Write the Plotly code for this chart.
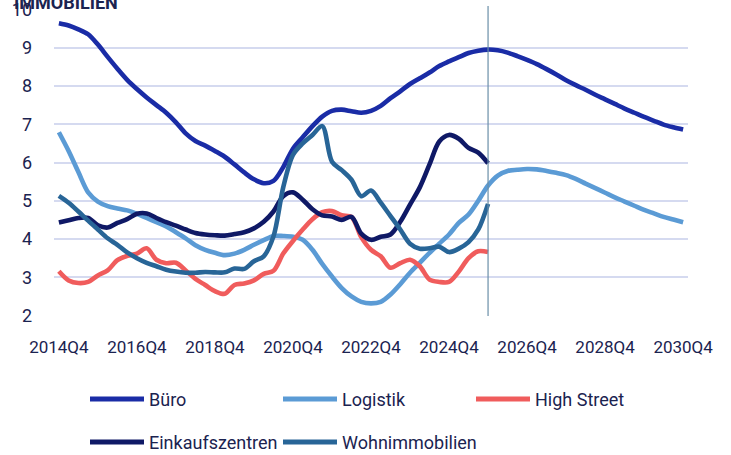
import plotly.graph_objects as go

# Quarterly categories 2014Q4 .. 2030Q4
quarters = [f"{2014 + (q + 3) // 4}Q{(q + 3) % 4 + 1}" for q in range(65)]
tick_labels = ["2014Q4", "2016Q4", "2018Q4", "2020Q4", "2022Q4",
               "2024Q4", "2026Q4", "2028Q4", "2030Q4"]
y_ticks = [2, 3, 4, 5, 6, 7, 8, 9, 10]
forecast_start = "2025Q4"

buero = [9.64, 9.58, 9.48, 9.35, 9.08, 8.76, 8.45, 8.16, 7.92, 7.70,
         7.50, 7.30, 7.05, 6.76, 6.56, 6.44, 6.30, 6.15, 5.95, 5.74,
         5.56, 5.46, 5.52, 5.88, 6.36, 6.66, 6.95, 7.20, 7.35, 7.38,
         7.34, 7.30, 7.35, 7.48, 7.68, 7.86, 8.05, 8.20, 8.35, 8.52,
         8.64, 8.75, 8.86, 8.92, 8.95, 8.93, 8.87, 8.78, 8.68, 8.57,
         8.44, 8.30, 8.15, 8.02, 7.90, 7.77, 7.65, 7.53, 7.41, 7.30,
         7.19, 7.09, 6.99, 6.92, 6.86]

logistik = [6.79, 6.30, 5.75, 5.22, 4.98, 4.86, 4.80, 4.75, 4.66, 4.55,
            4.44, 4.33, 4.18, 4.02, 3.84, 3.72, 3.64, 3.58, 3.62, 3.72,
            3.85, 3.97, 4.08, 4.08, 4.06, 3.98, 3.72, 3.35, 3.02, 2.72,
            2.50, 2.36, 2.32, 2.36, 2.55, 2.82, 3.12, 3.38, 3.64, 3.88,
            4.12, 4.42, 4.64, 5.00, 5.40, 5.66, 5.78, 5.81, 5.83, 5.82,
            5.78, 5.73, 5.67, 5.57, 5.45, 5.33, 5.21, 5.09, 4.98, 4.87,
            4.76, 4.67, 4.58, 4.51, 4.44]

high_street = [3.16, 2.92, 2.85, 2.88, 3.05, 3.18, 3.45, 3.56, 3.62, 3.76,
               3.46, 3.37, 3.38, 3.18, 2.96, 2.80, 2.64, 2.57, 2.80, 2.84,
               2.92, 3.09, 3.17, 3.62, 3.95, 4.25, 4.52, 4.70, 4.73, 4.62,
               4.58, 4.05, 3.72, 3.55, 3.25, 3.37, 3.46, 3.29, 2.94, 2.88,
               2.88, 3.15, 3.50, 3.68, 3.66]

einkaufszentren = [4.43, 4.49, 4.55, 4.55, 4.36, 4.30, 4.42, 4.52, 4.66, 4.67,
                   4.55, 4.44, 4.35, 4.25, 4.16, 4.12, 4.10, 4.09, 4.13, 4.18,
                   4.28, 4.45, 4.72, 5.12, 5.22, 5.03, 4.78, 4.62, 4.59, 4.50,
                   4.58, 4.14, 3.98, 4.06, 4.12, 4.45, 4.90, 5.35, 5.95, 6.55,
                   6.72, 6.62, 6.38, 6.26, 5.98]

wohnimmobilien = [5.13, 4.95, 4.72, 4.48, 4.25, 4.02, 3.85, 3.65, 3.50, 3.38,
                  3.29, 3.20, 3.15, 3.12, 3.12, 3.14, 3.13, 3.13, 3.23, 3.22,
                  3.42, 3.55, 4.07, 5.35, 6.20, 6.50, 6.72, 6.95, 6.02, 5.80,
                  5.55, 5.12, 5.27, 4.95, 4.60, 4.25, 3.88, 3.75, 3.76, 3.80,
                  3.66, 3.75, 3.92, 4.25, 4.92]

series = [
    ("Büro", buero, "#1a2ca6"),
    ("Logistik", logistik, "#5b9bd5"),
    ("High Street", high_street, "#f05c5c"),
    ("Einkaufszentren", einkaufszentren, "#0f1966"),
    ("Wohnimmobilien", wohnimmobilien, "#286597"),
]

FONT = "Roboto, DejaVu Sans Condensed, sans-serif"
TEXT_COLOR = "#1b2350"

W, H = 731, 455
ML, MR, MT, MB = 54, 43, 9, 139
PW, PH = W - ML - MR, H - MT - MB


def px_x(px):
    return (px - ML) / PW


def px_y(py):
    return (H - MB - py) / PH


fig = go.Figure()
for name, vals, color in series:
    fig.add_trace(go.Scatter(
        x=quarters[:len(vals)], y=vals, name=name, mode="lines",
        line=dict(color=color, width=4.6, shape="spline", smoothing=0.9),
        showlegend=False, hoverinfo="x+y+name",
    ))

shapes = [dict(
    type="line", xref="x", yref="paper",
    x0=quarters.index(forecast_start), x1=quarters.index(forecast_start),
    y0=0, y1=1.01, line=dict(color="#6a8ea8", width=1.2),
)]

annotations = [dict(
    text="<b>IMMOBILIEN</b>", xref="paper", yref="paper",
    x=px_x(12), y=px_y(15), xanchor="left", yanchor="bottom",
    showarrow=False, font=dict(family=FONT, size=18, color=TEXT_COLOR),
)]

# Legend drawn as line samples with labels in a 3-column grid
for k, (name, vals, color) in enumerate(series):
    row, col = divmod(k, 3)
    x0 = 90 + col * 193
    yc = 399 + row * 43
    shapes.append(dict(
        type="line", xref="paper", yref="paper",
        x0=px_x(x0), x1=px_x(x0 + 54), y0=px_y(yc), y1=px_y(yc),
        line=dict(color=color, width=5),
    ))
    annotations.append(dict(
        text=name, xref="paper", yref="paper",
        x=px_x(x0 + 57), y=px_y(yc), xanchor="left", yanchor="middle",
        showarrow=False, font=dict(family=FONT, size=18, color=TEXT_COLOR),
    ))

fig.update_layout(
    width=W, height=H,
    margin=dict(l=ML, r=MR, t=MT, b=MB, pad=0, autoexpand=False),
    paper_bgcolor="white", plot_bgcolor="white",
    font=dict(family=FONT, size=18, color=TEXT_COLOR),
    shapes=shapes, annotations=annotations,
    xaxis=dict(
        type="category", categoryorder="array", categoryarray=quarters,
        range=[-0.5, len(quarters) - 0.5], automargin=False,
        tickmode="array", tickvals=tick_labels, ticktext=tick_labels,
        showgrid=False, zeroline=False, showline=False, ticks="",
        ticklabelstandoff=19, tickfont=dict(family=FONT, size=17, color=TEXT_COLOR),
    ),
    yaxis=dict(
        range=[1.99, 10.01], tickmode="array", tickvals=y_ticks,
        ticktext=[str(v) for v in y_ticks], ticklabeloverflow="allow",
        automargin=False,
        showgrid=True, gridcolor="#d5daf0", gridwidth=1.6,
        zeroline=False, showline=False, ticks="",
        ticklabelstandoff=21, tickfont=dict(family=FONT, size=18, color=TEXT_COLOR),
    ),
)

fig.write_html("out.html")
